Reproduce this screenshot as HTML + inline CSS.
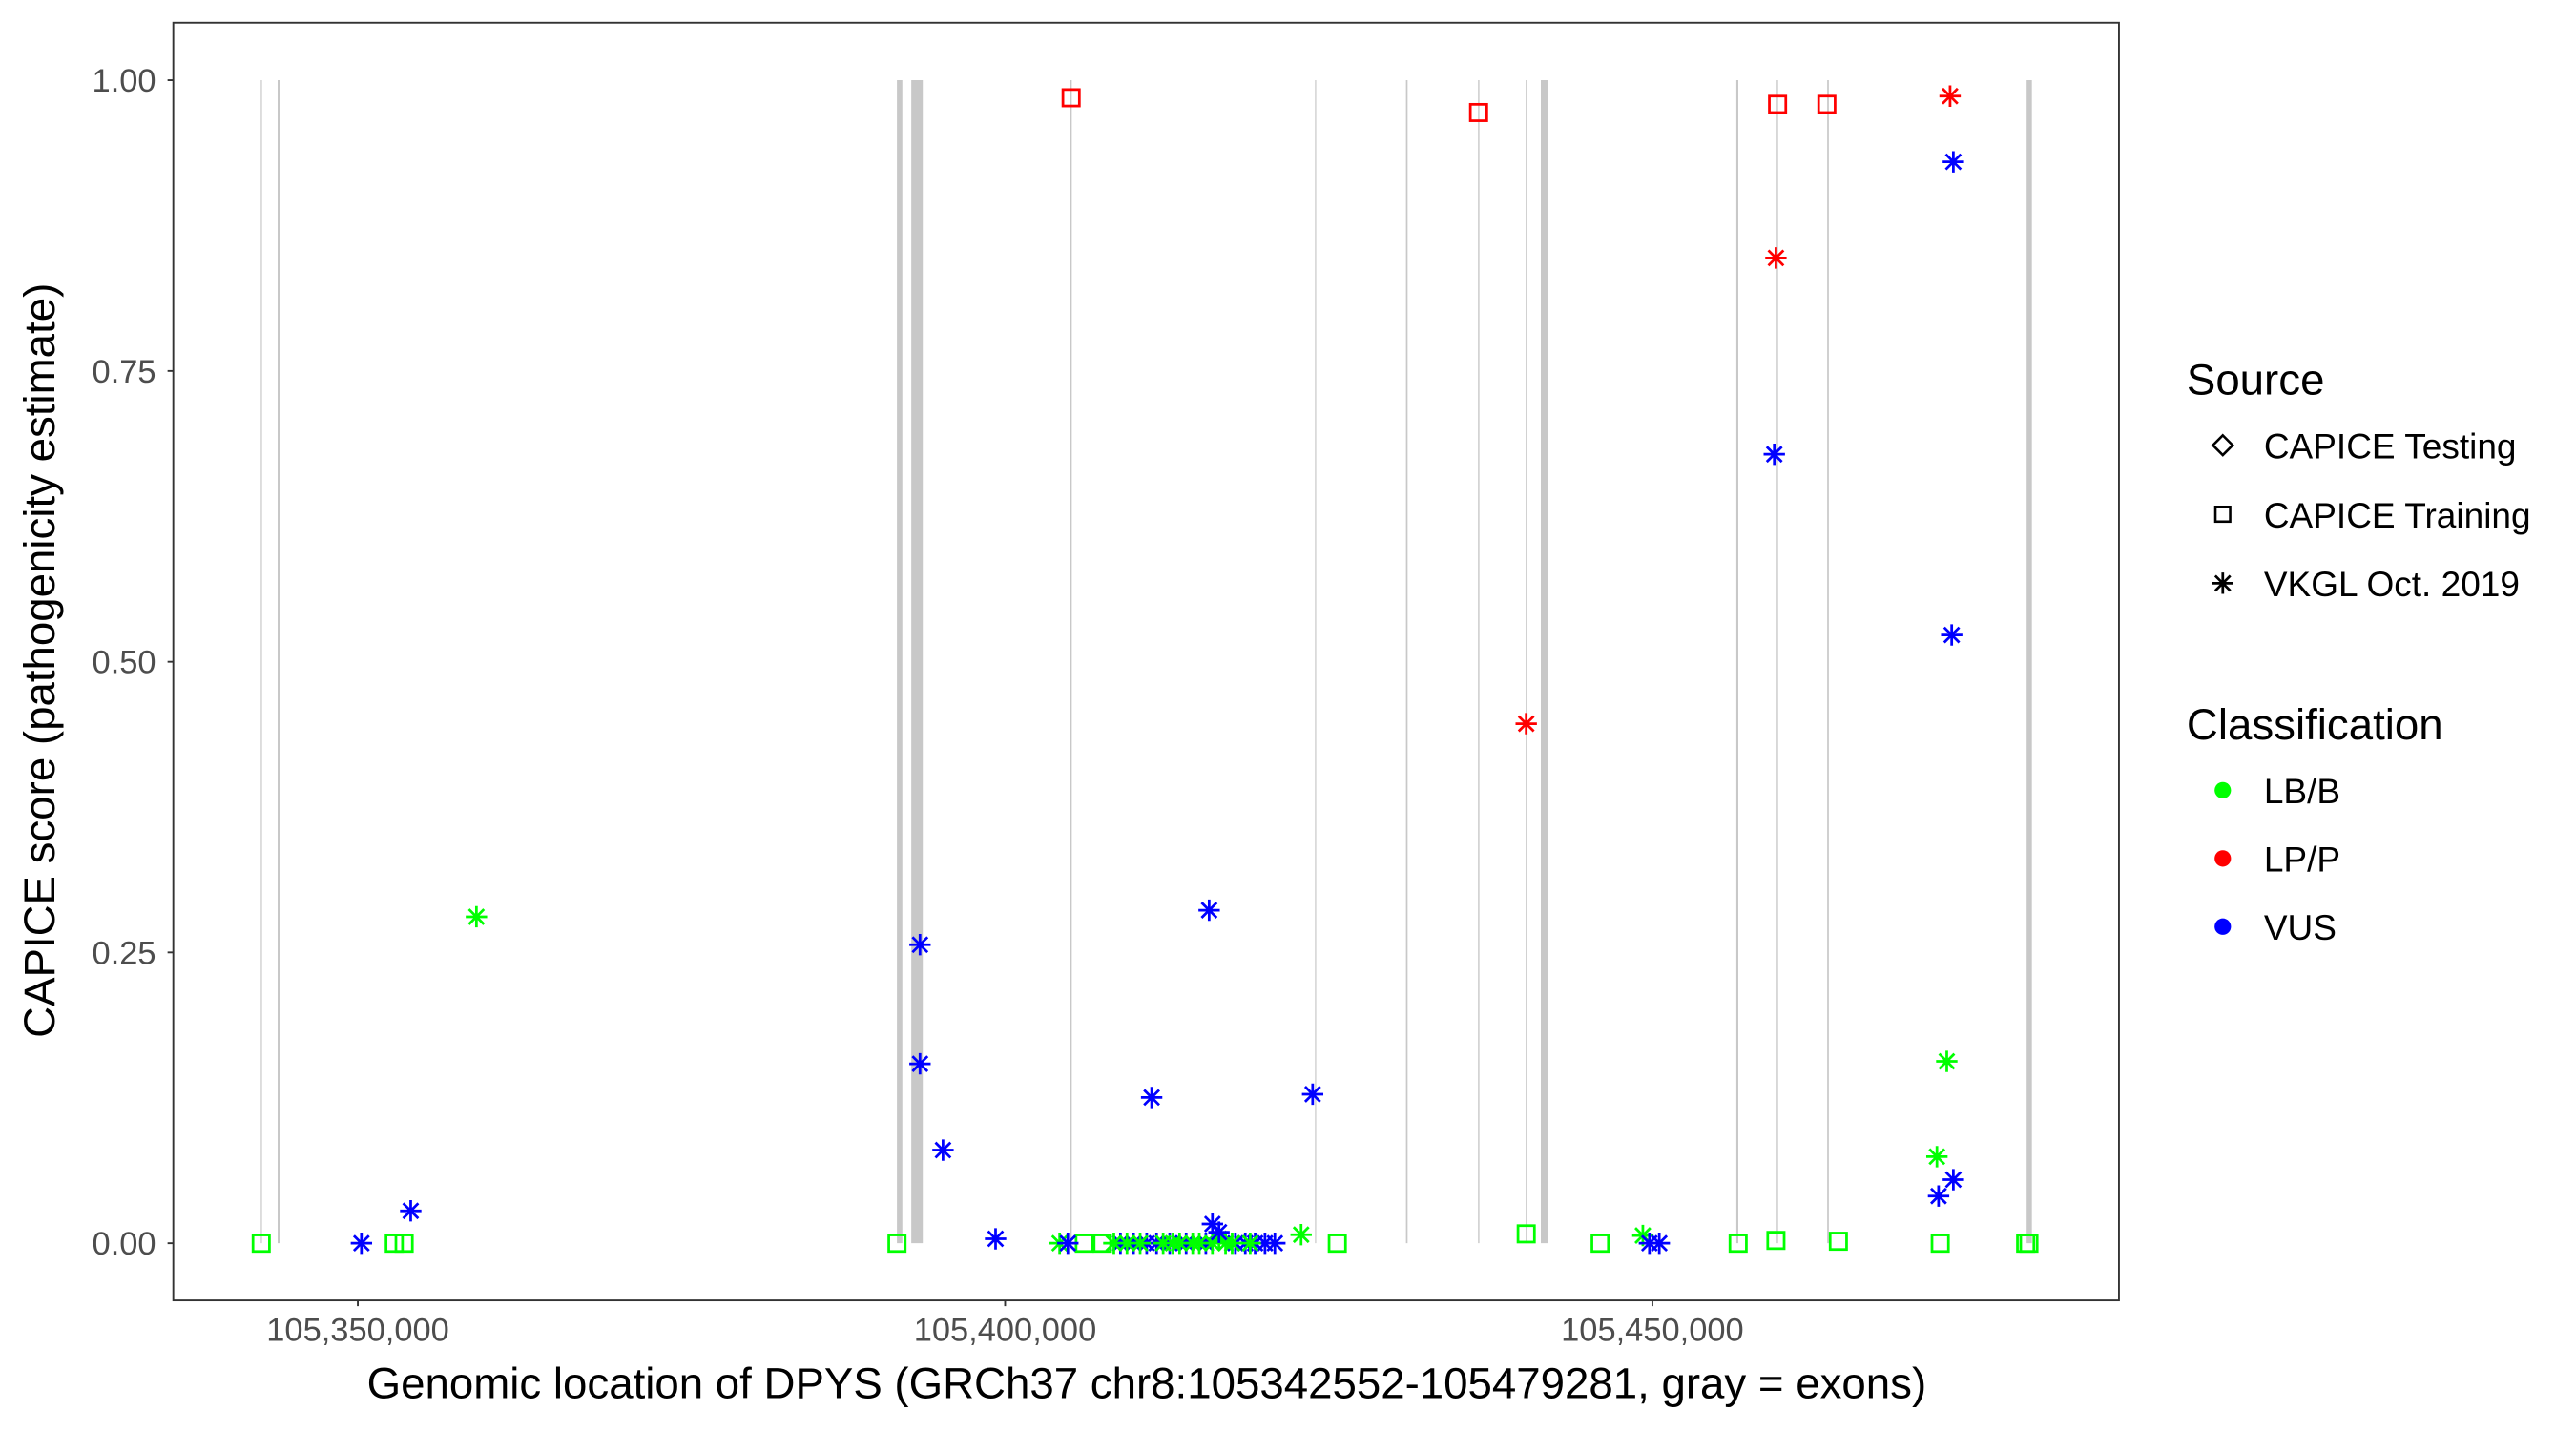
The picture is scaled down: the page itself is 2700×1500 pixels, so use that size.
<!DOCTYPE html>
<html><head><meta charset="utf-8"><style>
html,body{margin:0;padding:0;background:#fff;}
svg{display:block;}
text{font-family:"Liberation Sans",Arial,sans-serif;}
</style></head><body>
<svg width="2700" height="1500" viewBox="0 0 1568 871" preserveAspectRatio="none" xmlns="http://www.w3.org/2000/svg">
<defs>
<g id="ast" fill="none" stroke-width="1.6"><path d="M-6.5 0H6.5M0 -6.5V6.5M-4.6 -4.6L4.6 4.6M-4.6 4.6L4.6 -4.6"/></g>
<rect id="sq" x="-5" y="-5" width="10" height="10" fill="none" stroke-width="1.6"/>
</defs>
<rect width="1568" height="871" fill="#fff"/>
<g stroke="#c8c8c8">
<line x1="159.1" y1="48.8" x2="159.1" y2="756.7" stroke-width="0.7"/>
<line x1="169.6" y1="48.8" x2="169.6" y2="756.7" stroke-width="1.2"/>
<line x1="547.6" y1="48.8" x2="547.6" y2="756.7" stroke-width="3.3"/>
<line x1="558.2" y1="48.8" x2="558.2" y2="756.7" stroke-width="7"/>
<line x1="652" y1="48.8" x2="652" y2="756.7" stroke-width="0.8"/>
<line x1="800.8" y1="48.8" x2="800.8" y2="756.7" stroke-width="0.7"/>
<line x1="856.3" y1="48.8" x2="856.3" y2="756.7" stroke-width="1"/>
<line x1="900.1" y1="48.8" x2="900.1" y2="756.7" stroke-width="0.8"/>
<line x1="929.2" y1="48.8" x2="929.2" y2="756.7" stroke-width="1"/>
<line x1="940.2" y1="48.8" x2="940.2" y2="756.7" stroke-width="4.6"/>
<line x1="1057.5" y1="48.8" x2="1057.5" y2="756.7" stroke-width="1.2"/>
<line x1="1081.9" y1="48.8" x2="1081.9" y2="756.7" stroke-width="0.8"/>
<line x1="1112.7" y1="48.8" x2="1112.7" y2="756.7" stroke-width="1"/>
<line x1="1235.2" y1="48.8" x2="1235.2" y2="756.7" stroke-width="3.2"/>
</g>
<g stroke="#00ff00">
<use href="#sq" x="159" y="756.7"/><use href="#sq" x="240" y="756.7"/><use href="#sq" x="246" y="756.7"/>
<use href="#sq" x="546" y="756.7"/><use href="#sq" x="660" y="756.7"/><use href="#sq" x="671" y="756.7"/>
<use href="#sq" x="814" y="756.7"/><use href="#sq" x="929" y="751"/><use href="#sq" x="974" y="756.7"/>
<use href="#sq" x="1058" y="756.7"/><use href="#sq" x="1081" y="755"/><use href="#sq" x="1119" y="755.5"/>
<use href="#sq" x="1181" y="756.7"/><use href="#sq" x="1233" y="756.7"/><use href="#sq" x="1235" y="756.7"/>
</g>
<g stroke="#ff0000">
<use href="#sq" x="652" y="59.5"/><use href="#sq" x="900" y="68.5"/><use href="#sq" x="1082" y="63.5"/><use href="#sq" x="1112" y="63.5"/>
</g>
<g stroke="#0000ff">
<use href="#ast" x="682" y="756.7"/><use href="#ast" x="690" y="756.7"/><use href="#ast" x="698" y="756.7"/><use href="#ast" x="704" y="756.7"/>
<use href="#ast" x="712" y="756.7"/><use href="#ast" x="722" y="756.7"/><use href="#ast" x="734" y="756.7"/><use href="#ast" x="752" y="756.7"/>
<use href="#ast" x="758" y="756.7"/><use href="#ast" x="764" y="756.7"/><use href="#ast" x="770" y="756.7"/><use href="#ast" x="776" y="756.7"/>
</g>
<g stroke="#00ff00">
<use href="#ast" x="645" y="756.7"/><use href="#ast" x="678" y="756.7"/><use href="#ast" x="686" y="756.7"/><use href="#ast" x="694" y="756.7"/>
<use href="#ast" x="708" y="756.7"/><use href="#ast" x="714" y="756.7"/><use href="#ast" x="718" y="756.7"/><use href="#ast" x="726" y="756.7"/>
<use href="#ast" x="730" y="756.7"/><use href="#ast" x="738" y="756.7"/><use href="#ast" x="742" y="754"/><use href="#ast" x="746" y="756.7"/>
<use href="#ast" x="750" y="756.7"/><use href="#ast" x="761" y="756.7"/><use href="#ast" x="792" y="751.5"/>
<use href="#ast" x="290" y="558"/><use href="#ast" x="1185" y="646"/><use href="#ast" x="1179" y="704"/><use href="#ast" x="1000" y="752"/>
</g>
<g stroke="#0000ff">
<use href="#ast" x="650" y="756.7"/><use href="#ast" x="738" y="745"/><use href="#ast" x="742" y="750"/>
<use href="#ast" x="220" y="756.7"/><use href="#ast" x="250" y="737"/><use href="#ast" x="606" y="754"/>
<use href="#ast" x="560" y="575"/><use href="#ast" x="560" y="647.5"/><use href="#ast" x="574" y="700"/>
<use href="#ast" x="736" y="554"/><use href="#ast" x="701" y="668"/><use href="#ast" x="799" y="666"/>
<use href="#ast" x="1004" y="756.7"/><use href="#ast" x="1010" y="756.7"/>
<use href="#ast" x="1180" y="728"/><use href="#ast" x="1189" y="718"/>
<use href="#ast" x="1189" y="98.5"/><use href="#ast" x="1080" y="276.5"/><use href="#ast" x="1188" y="386.5"/>
</g>
<g stroke="#ff0000">
<use href="#ast" x="1187" y="58.5"/><use href="#ast" x="1081" y="157"/><use href="#ast" x="929" y="440.5"/>
</g>
<rect x="105.5" y="13.8" width="1184.3" height="777.7" fill="none" stroke="#333" stroke-width="1.1"/>
<g stroke="#333" stroke-width="1.1">
<line x1="102" y1="48.8" x2="105.5" y2="48.8"/><line x1="102" y1="225.8" x2="105.5" y2="225.8"/>
<line x1="102" y1="402.8" x2="105.5" y2="402.8"/><line x1="102" y1="579.7" x2="105.5" y2="579.7"/>
<line x1="102" y1="756.7" x2="105.5" y2="756.7"/>
<line x1="217.8" y1="791.5" x2="217.8" y2="795"/><line x1="611.8" y1="791.5" x2="611.8" y2="795"/><line x1="1005.8" y1="791.5" x2="1005.8" y2="795"/>
</g>
<g fill="#4d4d4d" font-size="20" text-anchor="end">
<text x="95" y="55.8">1.00</text><text x="95" y="232.8">0.75</text><text x="95" y="409.8">0.50</text><text x="95" y="586.7">0.25</text><text x="95" y="763.7">0.00</text>
</g>
<g fill="#4d4d4d" font-size="20" text-anchor="middle">
<text x="217.8" y="816">105,350,000</text><text x="611.8" y="816">105,400,000</text><text x="1005.8" y="816">105,450,000</text>
</g>
<text x="698" y="851" font-size="26.5" text-anchor="middle" fill="#000">Genomic location of DPYS (GRCh37 chr8:105342552-105479281, gray = exons)</text>
<text transform="translate(33,402) rotate(-90)" font-size="26.5" text-anchor="middle" fill="#000">CAPICE score (pathogenicity estimate)</text>
<text x="1331" y="240" font-size="26.5">Source</text>
<path d="M1353 265L1359 271L1353 277L1347 271Z" fill="none" stroke="#000" stroke-width="1.5"/>
<rect x="1348.5" y="308.5" width="9" height="9" fill="none" stroke="#000" stroke-width="1.5"/>
<use href="#ast" x="1353" y="355" stroke="#000"/>
<g font-size="21.5"><text x="1378" y="279">CAPICE Testing</text><text x="1378" y="321">CAPICE Training</text><text x="1378" y="363">VKGL Oct. 2019</text></g>
<text x="1331" y="450" font-size="26.5">Classification</text>
<circle cx="1353" cy="481" r="5" fill="#00ff00"/><circle cx="1353" cy="522.5" r="5" fill="#ff0000"/><circle cx="1353" cy="564" r="5" fill="#0000ff"/>
<g font-size="21.5"><text x="1378" y="489">LB/B</text><text x="1378" y="530.5">LP/P</text><text x="1378" y="572">VUS</text></g>
</svg>
</body></html>
